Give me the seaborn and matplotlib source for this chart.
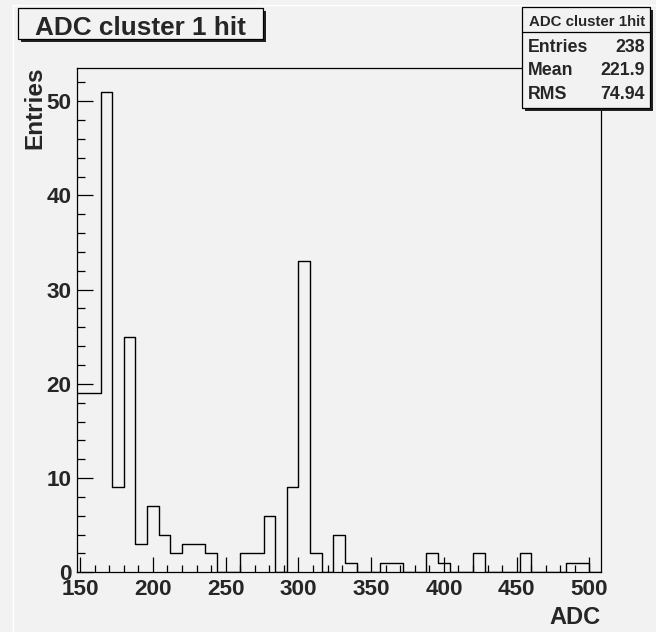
import numpy as np
import pandas as pd
import seaborn as sns
import matplotlib
matplotlib.use("Agg")
import matplotlib.pyplot as plt
from matplotlib.patches import Rectangle
from matplotlib.lines import Line2D
from matplotlib.ticker import MultipleLocator

# ---- data ----
bin_low = list(range(148, 508, 8))          # 45 bins of width 8, 148..508
counts = [19, 19, 51, 9, 25, 3, 7, 4, 2, 3,
          3, 2, 0, 0, 2, 2, 6, 0, 9, 33,
          2, 0, 4, 1, 0, 0, 1, 1, 0, 0,
          2, 1, 0, 0, 2, 0, 0, 0, 2, 0,
          0, 0, 1, 1, 0]
bin_width = 8
title = "ADC cluster 1 hit"
stats_title = "ADC cluster 1hit"
stats_names = ["Entries", "Mean", "RMS"]
stats_values = ["238", "221.9", "74.94"]
x_label = "ADC"
y_label = "Entries"

bin_edges = bin_low + [bin_low[-1] + bin_width]
df = pd.DataFrame({"ADC": [b + bin_width / 2 for b in bin_low], "n": counts})

# ---- style ----
bg = "#f2f2f2"
sns.set_style("ticks")
plt.rcParams["font.family"] = ["Liberation Sans", "DejaVu Sans"]
plt.rcParams["font.weight"] = "bold"

W, H = 656, 632
fig = plt.figure(figsize=(W / 100, H / 100), dpi=100, facecolor=bg)


def fx(px):
    return px / W


def fy(py):
    return 1 - py / H


L, R, T, B = 77.3, 601.0, 67.7, 572.3
ax = fig.add_axes([fx(L), fy(B), (R - L) / W, (B - T) / H])
ax.set_facecolor(bg)

sns.histplot(data=df, x="ADC", weights="n", bins=bin_edges, element="step",
             fill=False, color="black", linewidth=1.0, ax=ax)

ax.set_xlim(bin_edges[0], bin_edges[-1])
ax.set_ylim(0, max(counts) * 1.05)

for s in ax.spines.values():
    s.set_visible(True)
    s.set_color("black")
    s.set_linewidth(0.9)

ax.xaxis.set_major_locator(MultipleLocator(50))
ax.xaxis.set_minor_locator(MultipleLocator(10))
ax.yaxis.set_major_locator(MultipleLocator(10))
ax.yaxis.set_minor_locator(MultipleLocator(2))
ax.tick_params(axis="both", which="both", direction="in", color="black",
               width=0.9, top=False, right=False)
ax.tick_params(axis="x", which="major", length=10.5, pad=4.5, labelsize=16.2)
ax.tick_params(axis="x", which="minor", length=5.0)
ax.tick_params(axis="y", which="major", length=11.3, pad=4.0, labelsize=16.2)
ax.tick_params(axis="y", which="minor", length=6.0)
for lab in ax.get_xticklabels() + ax.get_yticklabels():
    lab.set_fontweight("bold")

ax.set_xlabel(x_label, loc="right", fontsize=17, fontweight="bold")
ax.xaxis.set_label_coords(1.0, (B - 606.5) / (B - T))
ax.set_ylabel(y_label, loc="top", fontsize=17.5, fontweight="bold")
ax.yaxis.set_label_coords((46.5 - L) / (R - L), 1.0 + 1.0 / (B - T))

# ---- canvas bevel ----
fig.add_artist(Line2D([fx(13), fx(W)], [fy(5), fy(5)], color="white", lw=1.0))
fig.add_artist(Line2D([fx(13), fx(13)], [fy(5), fy(H)], color="white", lw=1.0))


def shadow_box(x0, y0, x1, y1, z=5):
    sh = Rectangle((fx(x0 + 2.5), fy(y1 + 2.5)), fx(x1 - x0), (y1 - y0) / H,
                   transform=fig.transFigure, facecolor="#222222",
                   edgecolor="none", zorder=z)
    bx = Rectangle((fx(x0), fy(y1)), fx(x1 - x0), (y1 - y0) / H,
                   transform=fig.transFigure, facecolor=bg,
                   edgecolor="black", linewidth=0.9, zorder=z + 0.1)
    fig.add_artist(sh)
    fig.add_artist(bx)


# ---- title box ----
shadow_box(18.3, 8.3, 263.3, 39.3)
fig.text(fx(140.8), fy(35.0), title, ha="center", va="baseline",
         fontsize=18.8, fontweight="bold", zorder=6)

# ---- stats box ----
sx0, sy0, sx1, sy1 = 522.3, 7.3, 650.0, 108.3
shadow_box(sx0, sy0, sx1, sy1)
fig.add_artist(Line2D([fx(sx0), fx(sx1)], [fy(32.3), fy(32.3)], color="black",
                      lw=0.9, zorder=6))
fig.text(fx((sx0 + sx1) / 2 + 0.5), fy(26.0), stats_title, ha="center",
         va="baseline", fontsize=10.8, fontweight="bold", zorder=6)
row_baselines = [51.7, 75.0, 99.0]
for name, val, yb in zip(stats_names, stats_values, row_baselines):
    fig.text(fx(528.3), fy(yb), name, ha="left", va="baseline",
             fontsize=12.8, fontweight="bold", zorder=6)
    fig.text(fx(645.0), fy(yb), val, ha="right", va="baseline",
             fontsize=12.8, fontweight="bold", zorder=6)

fig.savefig("out.png", dpi=100, facecolor=bg)
